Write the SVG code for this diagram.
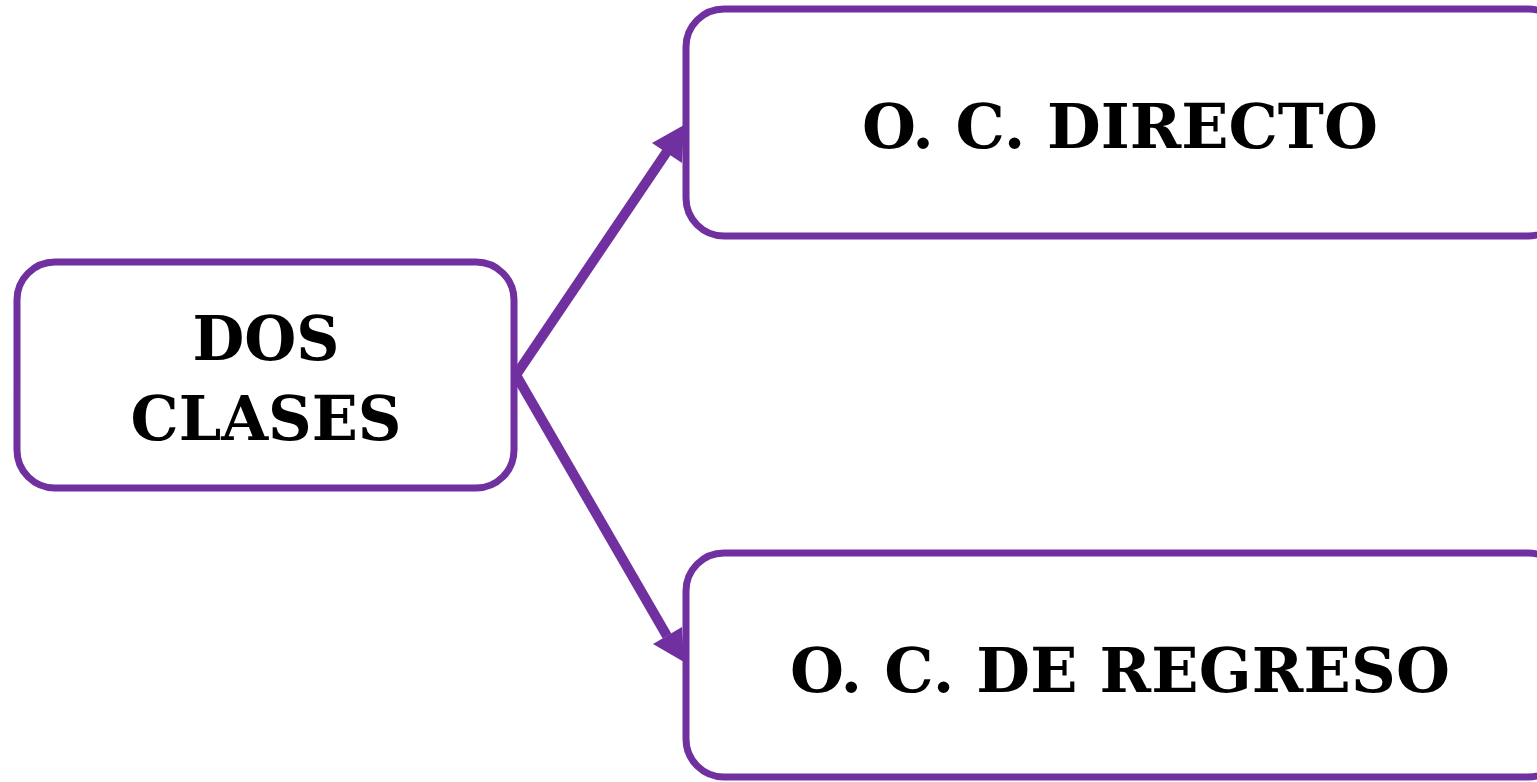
<svg xmlns="http://www.w3.org/2000/svg" width="1537" height="782" viewBox="0 0 1537 782">
<style>
.box{fill:#fff;stroke:#7030a0;stroke-width:7}
.lbl{font-family:"DejaVu Serif","Liberation Serif",serif;font-weight:bold;font-size:62px;fill:#000;text-anchor:middle}
.con{stroke:#7030a0;stroke-width:10;fill:none}
.head{fill:#7030a0}
</style>
<rect width="1537" height="782" fill="#fff"/>
<g id="connectors">
<line class="con" x1="516" y1="375" x2="668" y2="150"/>
<polygon class="head" points="684,125 652,143 682,163"/>
<line class="con" x1="516" y1="375" x2="667" y2="636"/>
<polygon class="head" points="684,662 653,644 682,627"/>
</g>
<g id="node-dos-clases">
<rect class="box" x="17" y="262" width="497" height="226" rx="38"/>
<text class="lbl" x="266" y="360" textLength="147" lengthAdjust="spacingAndGlyphs">DOS</text>
<text class="lbl" x="266" y="440" textLength="271" lengthAdjust="spacingAndGlyphs">CLASES</text>
</g>
<g id="node-directo">
<rect class="box" x="686" y="9" width="880" height="227" rx="38"/>
<text class="lbl" x="1120" y="148" textLength="516" lengthAdjust="spacing">O. C. DIRECTO</text>
</g>
<g id="node-regreso">
<rect class="box" x="686" y="553" width="880" height="224" rx="38"/>
<text class="lbl" x="1120" y="692" textLength="660" lengthAdjust="spacing">O. C. DE REGRESO</text>
</g>
</svg>
